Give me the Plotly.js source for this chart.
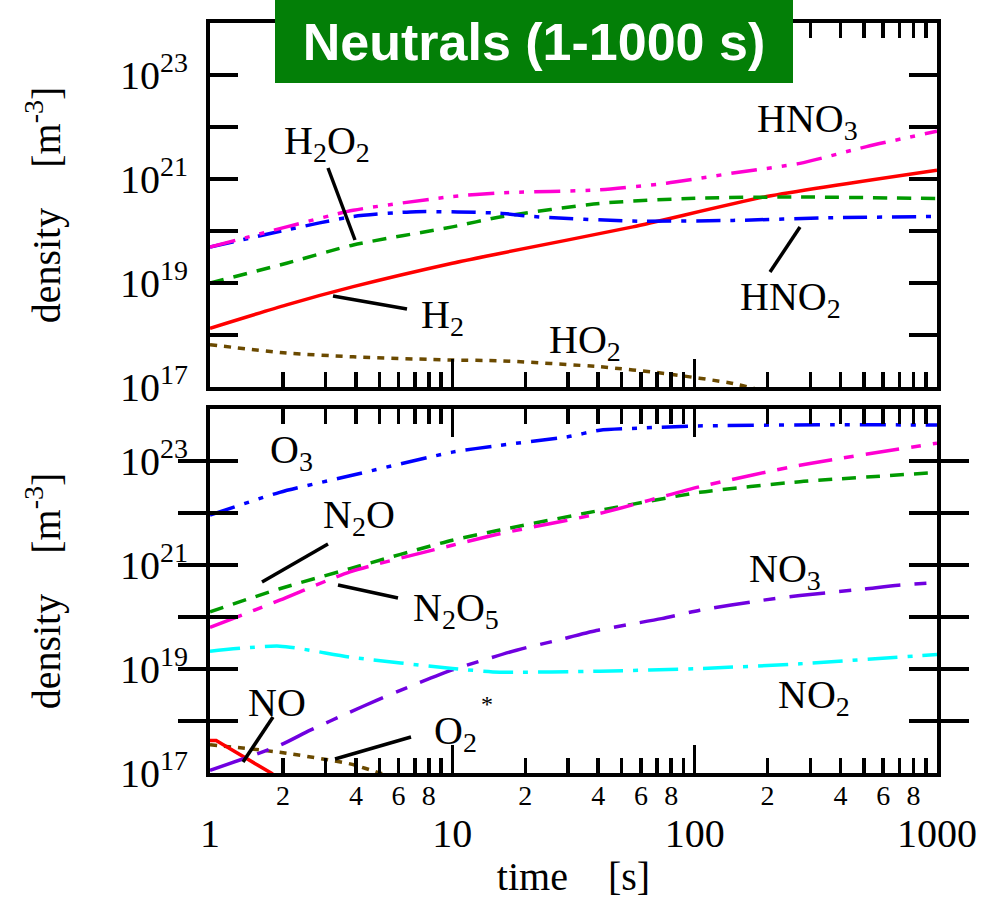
<!DOCTYPE html>
<html>
<head>
<meta charset="utf-8">
<script src="https://cdn.plot.ly/plotly-3.0.1.min.js"></script>
<style>html,body{margin:0;padding:0;background:#fff;}#chart{width:998px;height:899px;}</style>
</head>
<body>
<div id="chart"></div>
<script>
// ---------- data ----------
// Top panel
const tHNO3 = [1, 2.07, 3.9, 10, 15.7, 40.6, 76.6, 144, 272, 512, 1000];
const nHNO3 = [4.9e19, 1.2e20, 2.5e20, 4.6e20, 5.4e20, 6.2e20, 8.3e20, 1.3e21, 2.0e21, 4.2e21, 8.3e21];
const tHNO2 = [1, 2.07, 3.9, 7.1, 15.7, 21.5, 55.6, 144, 372, 1000];
const nHNO2 = [4.9e19, 1.05e20, 1.9e20, 2.35e20, 2.2e20, 1.9e20, 1.55e20, 1.6e20, 1.8e20, 1.9e20];
const tH2O2 = [1, 2.07, 3.9, 10, 15.7, 40.6, 105, 272, 1000];
const nH2O2 = [1.0e19, 2.4e19, 5.4e19, 1.2e20, 1.86e20, 3.4e20, 4.3e20, 4.5e20, 4.2e20];
const tH2 = [1, 2.07, 3.9, 10, 15.7, 55.6, 198, 1000];
const nH2 = [1.35e18, 3.8e18, 8.5e18, 2.4e19, 3.7e19, 1.2e20, 4.6e20, 1.48e21];
const tHO2 = [1, 2.07, 3.9, 10, 15.7, 40.6, 76.6, 144, 200];
const nHO2 = [6.5e17, 4.5e17, 3.8e17, 3.3e17, 3.2e17, 2.45e17, 1.8e17, 1.17e17, 8e16];
// Bottom panel
const tO3 = [1, 1.94, 3.78, 10, 15.7, 29.6, 40.6, 60, 98.6, 372, 1000];
const nO3 = [9.1e21, 2.5e22, 5.2e22, 1.48e23, 2.0e23, 2.9e23, 3.9e23, 4.3e23, 4.7e23, 5.0e23, 4.9e23];
const tN2O = [1, 1.94, 3.78, 10, 15.7, 40.6, 105, 272, 1000];
const nN2O = [1.26e20, 3.5e20, 8.5e20, 3.0e21, 4.7e21, 1.12e22, 2.5e22, 4.0e22, 6.0e22];
const tN2O5 = [1, 1.94, 3.78, 10, 15.7, 40.6, 105, 272, 1000];
const nN2O5 = [6.3e19, 2.1e20, 7.4e20, 2.4e21, 4.0e21, 9.8e21, 3.2e22, 8.3e22, 2.2e23];
const tNO2 = [1, 1.94, 3.78, 10, 15.7, 40.6, 105, 272, 1000];
const nNO2 = [2.2e19, 2.75e19, 1.7e19, 1.02e19, 8.7e18, 9.1e18, 1.02e19, 1.26e19, 1.9e19];
const tNO3 = [1, 1.94, 2.58, 3.78, 4.87, 6.9, 10, 18.4, 27, 39.3, 73, 105, 191, 272, 487, 692, 1000];
const nNO3 = [1.12e17, 3.4e17, 6.6e17, 1.48e18, 2.5e18, 4.9e18, 9.6e18, 2.3e19, 3.55e19, 5.5e19, 9.3e19, 1.35e20, 2.1e20, 2.6e20, 3.4e20, 4.1e20, 4.6e20];
const tNO = [1, 1.06, 1.8, 2.0];
const nNO = [4.2e17, 4.2e17, 9.8e16, 6.3e16];
const tO2s = [1, 1.94, 3.78, 5.1, 6];
const nO2s = [3.5e17, 2.5e17, 1.5e17, 9.8e16, 8e16];

// ticks
const yTickVals = [1e17, 1e18, 1e19, 1e20, 1e21, 1e22, 1e23, 1e24];
const yTickText = ["10<sup>17</sup>", "", "10<sup>19</sup>", "", "10<sup>21</sup>", "", "10<sup>23</sup>", ""];
const xMajorVals = [1, 10, 100, 1000];
const xMajorText = ["1", "10", "100", "1000"];
const xMinorVals = [2,3,4,5,6,7,8,9,20,30,40,50,60,70,80,90,200,300,400,500,600,700,800,900];
const xSmallVals = [2,4,6,8,20,40,60,80,200,400,600,800];
const xSmallText = ["2","4","6","8","2","4","6","8","2","4","6","8"];

const titleText = "<b>Neutrals (1-1000 s)</b>";
const yTitle = "density\u00A0\u00A0\u00A0\u00A0[m<sup>-3</sup>]";
const xTitle = "time\u00A0\u00A0\u00A0\u00A0[s]";

// ---------- styling ----------
const SERIF = "Liberation Serif";
const SANS = "Liberation Sans";
const LW = 3.5;
function tr(x, y, xa, ya, color, dash, linear) {
  const line = {color: color, width: LW, dash: dash};
  if (!linear) { line.shape = 'spline'; line.smoothing = 0.6; }
  return {x: x, y: y, xaxis: xa, yaxis: ya, mode: 'lines', showlegend: false, hoverinfo: 'skip', line: line};
}
const traces = [
  tr(tHO2, nHO2, 'x', 'y', '#6b4a00', '7px,7px'),
  tr(tH2, nH2, 'x', 'y', '#ff0000', 'solid'),
  tr(tH2O2, nH2O2, 'x', 'y', '#009a00', '14px,10px'),
  tr(tHNO2, nHNO2, 'x', 'y', '#0000ff', '24px,10px,5px,10px'),
  tr(tHNO3, nHNO3, 'x', 'y', '#ff00d2', '26px,10px,5px,10px,5px,10px'),
  tr(tO2s, nO2s, 'x2', 'y2', '#6b4a00', '7px,7px'),
  tr(tNO, nNO, 'x2', 'y2', '#ff0000', 'solid', true),
  tr(tNO3, nNO3, 'x2', 'y2', '#7000e0', '36px,14px,12px,14px'),
  tr(tNO2, nNO2, 'x2', 'y2', '#00ffff', '30px,10px,5px,10px'),
  tr(tN2O, nN2O, 'x2', 'y2', '#009a00', '14px,10px'),
  tr(tN2O5, nN2O5, 'x2', 'y2', '#ff00d2', '34px,12px,10px,12px'),
  tr(tO3, nO3, 'x2', 'y2', '#0000ff', '26px,10px,5px,10px,5px,10px'),
  {x: [], y: [], xaxis: 'x3', yaxis: 'y2', showlegend: false, hoverinfo: 'skip', mode: 'lines'}
];

// geometry helpers (plot area: x 210..937, y 23..773)
const L = 210, R = 61, T = 23, B = 126, W = 998, H = 899;
const PW = W - L - R, PH = H - T - B;
const px = v => (v - L) / PW;
const py = v => (H - B - v) / PH;

function xAxis(anchor, showLabels) {
  return {
    type: 'log', range: [0, 3], anchor: anchor,
    tickmode: 'array', tickvals: xMajorVals, ticktext: xMajorText,
    ticks: 'inside', ticklen: 28, tickwidth: LW, tickcolor: '#000',
    minor: {tickmode: 'array', tickvals: xMinorVals, ticks: 'inside', ticklen: 15, tickwidth: LW, tickcolor: '#000', showgrid: false},
    mirror: 'allticks', showline: true, linewidth: 4, linecolor: '#000',
    showgrid: false, zeroline: false,
    showticklabels: showLabels,
    tickfont: {family: SERIF, size: 40, color: '#000'},
    ticklabelstandoff: 22
  };
}
function yAxis(domain, anchor) {
  return {
    type: 'log', range: [17, 24], domain: domain, anchor: anchor,
    tickmode: 'array', tickvals: yTickVals, ticktext: yTickText,
    ticks: 'inside', ticklen: 28, tickwidth: LW, tickcolor: '#000',
    mirror: 'allticks', showline: true, linewidth: 4, linecolor: '#000',
    showgrid: false, zeroline: false,
    tickfont: {family: SERIF, size: 40, color: '#000'},
    ticklabelstandoff: 10,
    title: {text: yTitle, font: {family: SERIF, size: 40, color: '#000'}, standoff: 48}
  };
}

const labelFont = {family: SERIF, size: 40, color: '#000'};
function lab(text, cx, cy, size) {
  return {xref: 'paper', yref: 'paper', x: px(cx), y: py(cy), text: text, showarrow: false,
          xanchor: 'center', yanchor: 'middle', font: Object.assign({}, labelFont, size ? {size: size} : {})};
}
const annotations = [
  {xref: 'paper', yref: 'paper', x: px(275), y: py(0), xanchor: 'left', yanchor: 'top',
   width: 518, height: 83, bgcolor: '#037f07', borderpad: 0, borderwidth: 0, showarrow: false,
   text: titleText, font: {family: SANS, size: 52, color: '#fff'}},
  lab("H<sub>2</sub>O<sub>2</sub>", 327, 143),
  lab("H<sub>2</sub>", 442, 317),
  lab("HNO<sub>3</sub>", 807, 121),
  lab("HNO<sub>2</sub>", 790, 299),
  lab("HO<sub>2</sub>", 585, 342),
  lab("O<sub>3</sub>", 291, 452),
  lab("N<sub>2</sub>O", 359, 517),
  lab("N<sub>2</sub>O<sub>5</sub>", 456, 610),
  lab("NO<sub>3</sub>", 785, 571),
  lab("NO<sub>2</sub>", 814, 697),
  lab("NO", 277, 702),
  lab("O<sub>2</sub>", 455, 733),
  lab("*", 487, 704, 24)
];
function seg(x0, y0, x1, y1) {
  return {type: 'line', xref: 'paper', yref: 'paper', x0: px(x0), y0: py(y0), x1: px(x1), y1: py(y1),
          line: {color: '#000', width: LW}};
}
const shapes = [
  seg(328, 168, 355, 240),
  seg(333, 296, 407, 309),
  seg(770, 272, 800, 227),
  seg(262, 582, 328, 544),
  seg(338, 585, 398, 598),
  seg(273, 717, 243, 762),
  seg(335, 759, 411, 737)
];

const xa2 = xAxis('y2', true);
xa2.title = {text: xTitle, font: {family: SERIF, size: 40, color: '#000'}, standoff: 10};

const layout = {
  width: W, height: H,
  margin: {l: L, r: R, t: T, b: B, pad: 0},
  paper_bgcolor: '#fff', plot_bgcolor: '#fff',
  font: {family: SERIF, color: '#000'},
  showlegend: false,
  xaxis: xAxis('y', false),
  xaxis2: xa2,
  xaxis3: {type: 'log', range: [0, 3], overlaying: 'x2', anchor: 'y2', side: 'bottom',
           tickmode: 'array', tickvals: xSmallVals, ticktext: xSmallText, ticks: '',
           showline: false, showgrid: false, zeroline: false,
           tickfont: {family: SERIF, size: 28, color: '#000'}, ticklabelstandoff: 3},
  yaxis: yAxis([py(387), 1], 'x'),
  yaxis2: yAxis([0, py(409)], 'x2'),
  annotations: annotations,
  shapes: shapes
};

Plotly.newPlot('chart', traces, layout, {staticPlot: true, displayModeBar: false});
</script>
</body>
</html>
